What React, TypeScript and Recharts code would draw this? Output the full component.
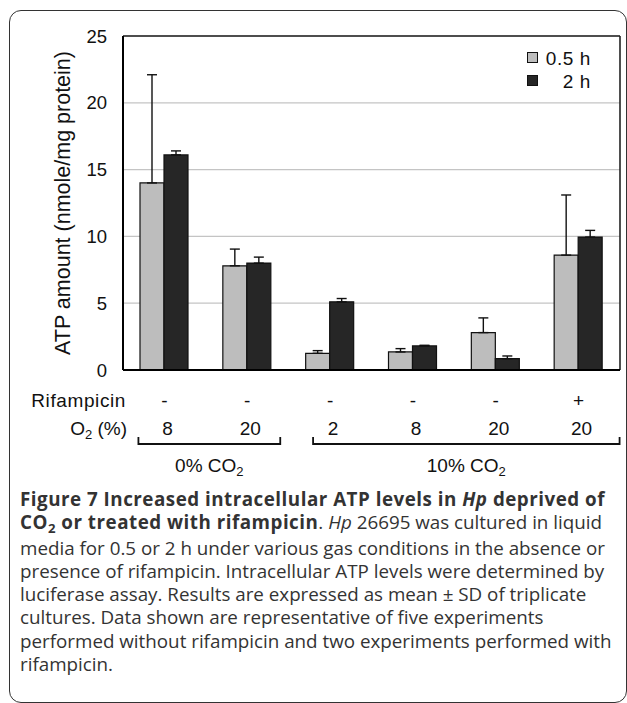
import React from "react";
import {
  BarChart,
  Bar,
  XAxis,
  YAxis,
  CartesianGrid,
  ErrorBar,
  Legend,
  Label,
} from "recharts";

// Values (nmole ATP / mg protein)
const rifampicin = ["-", "-", "-", "-", "-", "+"];
const o2Percent = ["8", "20", "2", "8", "20", "20"];
const atpHalfHour = [14.0, 7.8, 1.25, 1.35, 2.8, 8.6];
const sdHalfHour = [8.1, 1.25, 0.2, 0.25, 1.1, 4.5];
const atpTwoHours = [16.1, 8.0, 5.1, 1.8, 0.85, 9.95];
const sdTwoHours = [0.3, 0.45, 0.25, 0.05, 0.2, 0.5];
const co2Groups = [
  { label: "0% CO", first: 0, last: 1 },
  { label: "10% CO", first: 2, last: 5 },
];
const yTicks = [0, 5, 10, 15, 20, 25];
const seriesNames = ["0.5 h", "2 h"];

const data = o2Percent.map((o2, i) => ({
  id: i,
  o2,
  rif: rifampicin[i],
  half: atpHalfHour[i],
  halfErr: [0, sdHalfHour[i]],
  two: atpTwoHours[i],
  twoErr: [0, sdTwoHours[i]],
}));

// layout
const CHART_W = 627;
const CHART_H = 490;
const PLOT_LEFT = 123;
const PLOT_RIGHT = 620;
const PLOT_TOP = 36;
const PLOT_BOTTOM = 370;
const BAND = (PLOT_RIGHT - PLOT_LEFT) / data.length;
const bracketPad = [
  [-26, 33],
  [-17, 41],
];

const FONT = "'Liberation Sans', Arial, sans-serif";
const LIGHT = "#bdbdbd";
const DARK = "#262626";

function ConditionTick(props: any) {
  const { x, payload } = props;
  const i = payload.index ?? props.index;
  const row = data[i];
  const group = co2Groups.findIndex((g) => g.first === i);
  let bracket = null;
  if (group >= 0) {
    const g = co2Groups[group];
    const x0 = x + bracketPad[group][0];
    const x1 = x + (g.last - g.first) * BAND + bracketPad[group][1];
    bracket = (
      <g>
        <path
          d={`M${x0},437 L${x0},444 L${x1},444 L${x1},437`}
          fill="none"
          stroke="#111"
          strokeWidth={1.8}
        />
        <text x={(x0 + x1) / 2} y={472} textAnchor="middle" fontSize={19} fill="#111">
          {g.label}
          <tspan fontSize={13} dy={4}>2</tspan>
        </text>
      </g>
    );
  }
  return (
    <g fontFamily={FONT}>
      {i === 0 && (
        <g>
          <text x={PLOT_LEFT + 3} y={407} textAnchor="end" fontSize={19} fill="#111" letterSpacing={0.6}>
            Rifampicin
          </text>
          <text x={PLOT_LEFT + 4} y={435} textAnchor="end" fontSize={19} fill="#111">
            O<tspan fontSize={13} dy={4}>2</tspan>
            <tspan dy={-4}> (%)</tspan>
          </text>
        </g>
      )}
      <text x={x} y={407} textAnchor="middle" fontSize={19} fill="#111">
        {row.rif}
      </text>
      <text x={x + 3} y={435} textAnchor="middle" fontSize={19} fill="#111">
        {row.o2}
      </text>
      {bracket}
    </g>
  );
}

function LegendBox() {
  const swatches = [LIGHT, DARK];
  return (
    <div style={{ width: 64, fontFamily: FONT, fontSize: 19, color: "#111" }}>
      {seriesNames.map((name, k) => (
        <div
          key={name}
          style={{
            height: 23,
            display: "flex",
            alignItems: "center",
            justifyContent: "space-between",
          }}
        >
          <span
            style={{
              width: 9,
              height: 9,
              background: swatches[k],
              border: "1.2px solid #111",
              display: "inline-block",
              marginTop: -3,
            }}
          />
          <span style={{ letterSpacing: 0.6 }}>{name}</span>
        </div>
      ))}
    </div>
  );
}

const sub2 = (
  <span style={{ fontSize: "0.7em", position: "relative", top: 4 }}>2</span>
);

const captionLines: React.ReactNode[] = [
  <b style={{ letterSpacing: 0.5 }}>
    Figure 7 Increased intracellular ATP levels in <i>Hp</i> deprived of
  </b>,
  <>
    <b style={{ letterSpacing: 0.5 }}>CO{sub2} or treated with rifampicin</b>. <i>Hp</i> 26695 was
    cultured in liquid
  </>,
  "media for 0.5 or 2 h under various gas conditions in the absence or",
  "presence of rifampicin. Intracellular ATP levels were determined by",
  "luciferase assay. Results are expressed as mean \u00b1 SD of triplicate",
  "cultures. Data shown are representative of five experiments",
  "performed without rifampicin and two experiments performed with",
  "rifampicin.",
];

export default function App() {
  return (
    <div style={{ position: "absolute", left: 0, top: 0, width: 627, height: 703, background: "#fff" }}>
      <div
        style={{
          position: "absolute",
          left: 9,
          top: 10,
          width: 618,
          height: 693,
          boxSizing: "border-box",
          border: "1.5px solid #333",
          borderRadius: 12,
        }}
      />
      <div style={{ position: "absolute", left: 0, top: 0 }}>
        <BarChart
          width={CHART_W}
          height={CHART_H}
          data={data}
          margin={{ top: PLOT_TOP, right: CHART_W - PLOT_RIGHT, left: 0, bottom: 10 }}
          barGap={0}
          barSize={24}
        >
          <CartesianGrid vertical={false} stroke="#c4c4c4" strokeWidth={1.3} />
          {/* plot frame: top and right edges */}
          <CartesianGrid
            stroke="#222"
            strokeWidth={1.6}
            horizontalCoordinatesGenerator={({ offset }: any) => [offset.top]}
            verticalCoordinatesGenerator={({ offset }: any) => [offset.left + offset.width]}
          />
          <XAxis
            dataKey="id"
            height={CHART_H - 10 - PLOT_BOTTOM}
            tickLine={false}
            tickSize={0}
            tickMargin={0}
            axisLine={{ stroke: "#000", strokeWidth: 2 }}
            tick={<ConditionTick />}
            interval={0}
          />
          <YAxis
            width={PLOT_LEFT}
            domain={[0, 25]}
            ticks={yTicks}
            interval={0}
            tickLine={false}
            tickSize={0}
            tickMargin={16}
            axisLine={{ stroke: "#000", strokeWidth: 2 }}
            tick={{ fontSize: 18.5, fill: "#111", fontFamily: FONT }}
          >
            <Label
              content={() => (
                <text
                  x={63}
                  y={(PLOT_TOP + PLOT_BOTTOM) / 2}
                  transform={`rotate(-90 63 ${(PLOT_TOP + PLOT_BOTTOM) / 2})`}
                  textAnchor="middle"
                  dominantBaseline="central"
                  fontSize={21.5}
                  fontFamily={FONT}
                  fill="#111"
                >
                  ATP amount (nmole/mg protein)
                </text>
              )}
            />
          </YAxis>
          <Legend
            layout="vertical"
            align="center"
            verticalAlign="middle"
            wrapperStyle={{ left: 527, top: 47, width: 66 }}
            content={() => <LegendBox />}
          />
          <Bar dataKey="half" name={seriesNames[0]} fill={LIGHT} stroke="#111" strokeWidth={1.2} isAnimationActive={false}>
            <ErrorBar dataKey="halfErr" direction="y" width={5} stroke="#111" strokeWidth={1.4} isAnimationActive={false} />
          </Bar>
          <Bar dataKey="two" name={seriesNames[1]} fill={DARK} stroke="#111" strokeWidth={1.2} isAnimationActive={false}>
            <ErrorBar dataKey="twoErr" direction="y" width={5} stroke="#111" strokeWidth={1.4} isAnimationActive={false} />
          </Bar>
        </BarChart>
      </div>
      <div
        style={{
          position: "absolute",
          left: 20,
          top: 488,
          fontFamily: "'Open Sans', sans-serif",
          fontSize: 18.8,
          lineHeight: "23.3px",
          color: "#333",
          whiteSpace: "nowrap",
        }}
      >
        {captionLines.map((line, k) => (
          <div key={k}>{line}</div>
        ))}
      </div>
    </div>
  );
}
